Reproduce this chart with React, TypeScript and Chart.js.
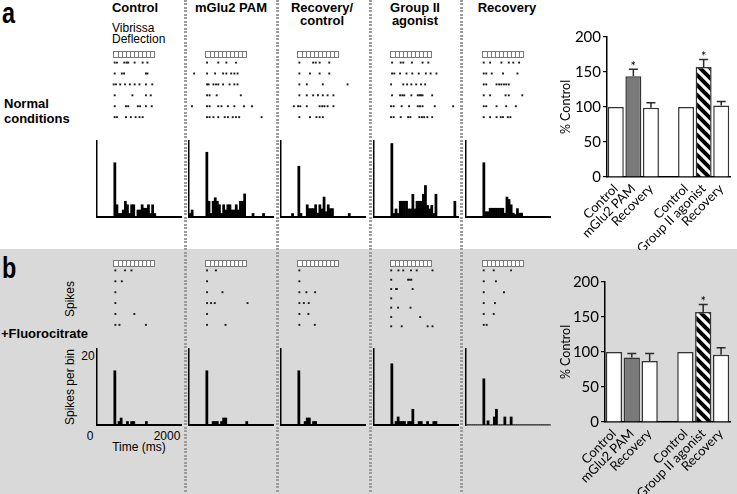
import React, { useEffect, useRef } from "react";
import { Chart, registerables } from "chart.js";
Chart.register(...registerables);

const SANS = "'Liberation Sans', Arial, sans-serif";
const BAR_FONT = "Lato, 'Open Sans', sans-serif";

// ---------- PSTH (50 ms bins, 0-2000 ms) ----------
const BIN_WIDTH_MS = 50;
const BIN_COUNT = 40;
const BIN_LABELS = Array.from({ length: BIN_COUNT }, (_, i) => String(i * BIN_WIDTH_MS));
const PSTH_MAX = 22;

const psthA_control = [0,0,0,0,0,0,0,0,15.5,3.5,1,1,2,4.5,3.5,1,3.5,3.5,0,2,2,3.5,2.5,2.5,3.5,1,3.5,1,0,0,0,0,0,0,0,0,0,0,0,0];
const psthA_mglu2 = [1,2,0,0,0,0,0,0,18.5,4.5,1,4.5,5.5,4.5,3.5,1,3.5,2,3.5,3.5,2,2,3.5,2,4.5,4.5,6.6,0,0,0,1,0,0,0,0,1,0,0,0,0];
const psthA_reccon = [0,0,0,0,0,1,0,0,14.5,1,0,0,3.5,2.4,2.4,2.4,3.5,1.1,3.5,2.3,5.7,1.5,3.5,2.4,2.4,0,0,0,0,0,0,0,1,0,0,0,0,0,0,0];
const psthA_group2 = [0,0,0,0,0,0,0,0,21,1,2.3,1,4.5,4.5,4.5,4.5,2.3,2.3,6.5,2.3,4.5,4.5,4.5,6.5,9,3.3,2.3,3.3,1,6.5,0,0,0,0,0,0,0,0,4.5,0];
const psthA_recovery = [0,0,0,0,0,0,0,0,15.5,1.5,1.5,2.5,2.5,2.5,2.5,2.5,2.5,2.5,1.1,5.7,5,3.5,1.1,0.7,2.4,1.1,1.1,0,0,0,0,0,0,0,0,0,0,0,0,0];

const psthB_control = [0,0,0,0,0,0,0,0,15.5,0,1,2,0,0,1,0,1,1,0,0,0,0,0,1,0,0,0,0,0,0,0,0,0,0,0,0,0,0,0,0];
const psthB_mglu2 = [0,0,0,0,0,0,0,0,15.5,0,0,1,1,1,0,1,2,2,0,0,0,0,0,0,0,0,0,1,0,0,0,0,0,0,0,0,0,0,0,0];
const psthB_reccon = [0,0,0,0,0,0,0,0,15.5,0,0,1,2,2,0,1,1,0,0,0,0,0,0,0,0,0,0,0,0,0,0,0,0,0,0,0,0,0,0,0];
const psthB_group2 = [0,0,0,0,0,0,0,0,17.5,0,1,2.3,1,1,1,0,1,1,4.5,0,0,1,1,0,0,1,0,0,1,1,0,0,0,0,0,0,0,0,0,0];
const psthB_recovery = [0,0,0,0,0,0,0,0,13.2,0,1.2,0,0,2.3,4.5,0,0,0,2.3,0,0,2.3,0,0,0,0,0,0,0,0,0,0,0,0,0,0,0,0,0,0];

// ---------- Rasters: spike times (ms) per trial ----------
const STIM_START_MS = 370;
const STIM_END_MS = 1390;
const STIM_CELLS = 10;

const rasterA_control = [
  [412, 469, 650, 707, 745, 905, 1102, 1221],
  [412, 588, 643, 1183, 1221],
  [388, 445, 548, 667, 786, 905, 1024, 1183, 1340],
  [412, 850, 1183, 1302],
  [412, 690, 745, 983, 1040, 1183, 1326],
  [412, 469, 690, 810, 929, 1024, 1102],
];
const rasterA_mglu2 = [
  [421, 698, 898, 1136],
  [102, 421, 619, 817, 898, 1017, 1095, 1174],
  [421, 460, 579, 643, 698, 817, 976, 1095, 1174],
  [421, 484, 659, 1255],
  [48, 421, 484, 698, 778, 936, 1095, 1333, 1531],
  [421, 484, 579, 698, 857, 936, 1055, 1136, 1214, 1769],
];
const rasterA_reccon = [
  [429, 769, 833, 929, 1167],
  [429, 690, 929, 1167],
  [429, 612, 1007, 1619],
  [429, 612, 769, 888, 1007, 1126, 1270],
  [293, 397, 452, 612, 929, 993, 1048, 1126, 1270],
  [429, 690, 850, 929, 1007],
];
const rasterA_group2 = [
  [421, 635, 698, 912, 1174, 1317],
  [421, 476, 619, 778, 921, 1079, 1255, 1373, 1516],
  [397, 698, 793, 897, 1017, 1136, 1238],
  [421, 619, 674, 722, 897, 1055, 1095, 1136, 1174, 1412],
  [397, 460, 659, 841, 1055, 1111, 1174, 1476, 1929],
  [397, 460, 635, 817, 873, 1095, 1159, 1214, 1293, 1412],
];
const rasterA_recovery = [
  [413, 571, 849, 1031, 1143, 1286],
  [413, 476, 611, 889, 1246],
  [413, 476, 730, 794, 849, 913, 968, 1031],
  [413, 571, 952, 1031, 1365],
  [413, 476, 730, 968, 1206],
  [413, 571, 730, 833, 889, 1007, 1071],
];

const rasterB_control = [[429, 667, 826], [429, 588], [429], [429], [429, 897], [429, 530, 1183]];
const rasterB_mglu2 = [[421, 640], [421], [421, 802], [421, 520, 611, 1420], [421], [421, 877]];
const rasterB_reccon = [[429], [429], [429, 603, 818], [429, 540, 660], [429, 651], [429, 810]];
const rasterB_group2 = [[400, 579, 698, 889, 1030, 1420], [400, 817, 857, 897], [400, 520, 540, 930], [400], [400, 570, 877], [400, 1115], [400, 659, 1300, 1420]];
const rasterB_recovery = [[413, 660, 1087], [413, 714], [413, 913], [413, 690], [413, 660], [413, 484]];

// ---------- Summary bar charts (% control) ----------
const barLabels = ["Control", "mGlu2 PAM", "Recovery", "", "Control", "Group II agonist", "Recovery"];
const barsA = [100, 144, 99, null, 100, 157, 102];
const errA = [null, 10, 7, null, null, 11, 6];
const sigA = [false, true, false, false, false, true, false];
const barsB = [100, 92, 87, null, 100, 157, 96];
const errB = [null, 6, 11, null, null, 11, 10];
const sigB = [false, false, false, false, false, true, false];

const columnTitles = [["Control"], ["mGlu2 PAM"], ["Recovery/", "control"], ["Group II", "agonist"], ["Recovery"]];

// ---------- layout ----------
const COL_LEFT = [97, 189, 281, 374, 466];
const COL_TITLE_X = [135, 231, 322, 415, 507];
const PLOT_W = 84;
const PAD_L = 3;
const PAD_R = 2;
const PAD_B = 3;
const PSTH_A = { top: 140, bottom: 217 };
const PSTH_B = { top: 348, bottom: 425 };
const RASTER_A = { top: 46, bottom: 125, firstRow: 60, lastRow: 120.7 };
const RASTER_B = { top: 255, bottom: 333, firstRow: 267.7, lastRow: 328.4 };
const RASTER_B7 = { top: 255, bottom: 333, firstRow: 267.7, lastRow: 330 };
const DOTTED_X = [184, 276, 369, 460];

const noPlugins = { legend: { display: false }, tooltip: { enabled: false }, title: { display: false } };

function psthConfig(values: number[], xColor = "#000") {
  return {
    type: "bar",
    data: {
      labels: BIN_LABELS,
      datasets: [{ data: values, backgroundColor: "#000", borderWidth: 0, barPercentage: 1, categoryPercentage: 1 }],
    },
    options: {
      responsive: false,
      animation: false,
      events: [],
      layout: { padding: { left: PAD_L, right: PAD_R, top: 0, bottom: PAD_B } },
      plugins: noPlugins,
      scales: {
        x: {
          display: true,
          grid: { display: false },
          ticks: { display: false },
          border: { display: true, color: xColor, width: 2 },
          afterFit: (s: any) => { s.height = 0; },
        },
        y: {
          display: true,
          min: 0,
          max: PSTH_MAX,
          grid: { display: false },
          ticks: { display: false },
          border: { display: true, color: "#000", width: 1.5 },
          afterFit: (s: any) => { s.width = 0; },
        },
      },
    },
  };
}

const stimBoxPlugin = {
  id: "stimBox",
  afterDraw(chart: any) {
    const { ctx, chartArea, scales } = chart;
    const x0 = Math.round(scales.x.getPixelForValue(STIM_START_MS)) + 0.5;
    const x1 = Math.round(scales.x.getPixelForValue(STIM_END_MS)) + 0.5;
    const y0 = Math.round(chartArea.top) + 1.5;
    const h = 6;
    ctx.save();
    ctx.fillStyle = "#fff";
    ctx.fillRect(x0, y0, x1 - x0, h);
    ctx.strokeStyle = "#7a7a7a";
    ctx.lineWidth = 1;
    ctx.strokeRect(x0, y0, x1 - x0, h);
    ctx.beginPath();
    for (let k = 1; k < STIM_CELLS; k++) {
      const x = Math.round(x0 + ((x1 - x0) * k) / STIM_CELLS) + 0.5;
      ctx.moveTo(x, y0);
      ctx.lineTo(x, y0 + h);
    }
    ctx.stroke();
    ctx.restore();
  },
};

function rasterConfig(trials: number[][], lay: any) {
  const n = trials.length;
  const s = (lay.lastRow - lay.firstRow) / (n - 1);
  const min = 1 - (lay.firstRow - lay.top) / s;
  const max = n + (lay.bottom - lay.lastRow) / s;
  const points = trials.flatMap((ts, i) => ts.map((t) => ({ x: t, y: i + 1 })));
  return {
    type: "scatter",
    data: {
      datasets: [{ data: points, pointStyle: "rect", pointRadius: 1.35, backgroundColor: "#1a1a1a", borderWidth: 0 }],
    },
    options: {
      responsive: false,
      animation: false,
      events: [],
      layout: { padding: { left: PAD_L, right: PAD_R, top: 0, bottom: 0 } },
      plugins: noPlugins,
      scales: {
        x: { type: "linear", display: false, min: 0, max: 2000 },
        y: { type: "linear", display: false, reverse: true, min, max },
      },
    },
    plugins: [stimBoxPlugin],
  };
}

function makeHatch(ctx: CanvasRenderingContext2D) {
  const p = 10;
  const tile = document.createElement("canvas");
  tile.width = p;
  tile.height = p;
  const g = tile.getContext("2d")!;
  g.fillStyle = "#fff";
  g.fillRect(0, 0, p, p);
  g.strokeStyle = "#000";
  g.lineWidth = 4;
  g.beginPath();
  for (const off of [-p, 0, p]) {
    g.moveTo(-p, -p + off);
    g.lineTo(2 * p, 2 * p + off);
  }
  g.stroke();
  return ctx.createPattern(tile, "repeat");
}

function barConfig(canvas: HTMLCanvasElement, values: (number | null)[], errs: (number | null)[], sig: boolean[], yWidth: number, padTop: number, xHeight: number) {
  const hatch = makeHatch(canvas.getContext("2d")!);
  const errPlugin = {
    id: "errBars",
    afterDatasetsDraw(chart: any) {
      const { ctx } = chart;
      const y = chart.scales.y;
      const meta = chart.getDatasetMeta(0);
      errs.forEach((e, i) => {
        const v = values[i];
        if (e == null || v == null) return;
        const bar = meta.data[i];
        const top = y.getPixelForValue(v + e);
        ctx.save();
        ctx.strokeStyle = "#2a2a2a";
        ctx.lineWidth = 1.5;
        ctx.beginPath();
        ctx.moveTo(bar.x, bar.y);
        ctx.lineTo(bar.x, top);
        ctx.moveTo(bar.x - 4.5, top);
        ctx.lineTo(bar.x + 4.5, top);
        ctx.stroke();
        if (sig[i]) {
          ctx.fillStyle = "#000";
          ctx.font = `13px ${BAR_FONT}`;
          ctx.textAlign = "center";
          ctx.textBaseline = "alphabetic";
          ctx.fillText("*", bar.x, top + 2);
        }
        ctx.restore();
      });
    },
  };
  return {
    type: "bar",
    data: {
      labels: barLabels,
      datasets: [
        {
          data: values,
          backgroundColor: ["#fff", "#7a7a7a", "#fff", "rgba(0,0,0,0)", "#fff", hatch, "#fff"],
          borderColor: "#333",
          borderWidth: 1.5,
          borderSkipped: "bottom",
          barPercentage: 0.91,
          categoryPercentage: 1,
        },
      ],
    },
    options: {
      responsive: false,
      animation: false,
      events: [],
      layout: { padding: { left: 0, right: 7, top: padTop, bottom: 0 } },
      plugins: noPlugins,
      scales: {
        x: {
          grid: { display: false },
          border: { display: true, color: "#000", width: 1.5 },
          ticks: {
            autoSkip: false,
            minRotation: 45,
            maxRotation: 45,
            padding: -4,
            color: "#000",
            font: { family: BAR_FONT, size: 13 },
          },
          afterFit: (s: any) => { s.height = xHeight; },
        },
        y: {
          min: 0,
          max: 200,
          grid: { display: true, drawOnChartArea: false, drawTicks: true, tickLength: 4, color: "#000", lineWidth: 1.2 },
          border: { display: true, color: "#000", width: 1.5 },
          ticks: { stepSize: 50, padding: 2, color: "#000", font: { family: BAR_FONT, size: 15 } },
          title: { display: true, text: "% Control", color: "#000", font: { family: BAR_FONT, size: 12.5 }, padding: { top: 2, bottom: 0 } },
          afterFit: (s: any) => { s.width = yWidth; },
        },
      },
    },
    plugins: [errPlugin],
  };
}

function ChartCanvas({ left, top, width, height, make }: { left: number; top: number; width: number; height: number; make: (c: HTMLCanvasElement) => any }) {
  const ref = useRef<HTMLCanvasElement>(null);
  useEffect(() => {
    const c = new Chart(ref.current!, make(ref.current!));
    return () => c.destroy();
  }, []);
  return <canvas ref={ref} width={width} height={height} style={{ position: "absolute", left, top, width, height }} />;
}

function Txt({ x, baseline, size = 12, bold = false, align = "left", children, scaleX }: any) {
  const top = baseline - 0.8465 * size;
  const tx = align === "center" ? "translateX(-50%)" : align === "right" ? "translateX(-100%)" : "";
  return (
    <div
      style={{
        position: "absolute",
        left: x,
        top,
        fontFamily: SANS,
        fontSize: size,
        lineHeight: `${size}px`,
        fontWeight: bold ? 700 : 400,
        whiteSpace: "nowrap",
        color: "#000",
        transform: `${tx}${scaleX ? ` scaleX(${scaleX})` : ""}`,
        transformOrigin: "left top",
      }}
    >
      {children}
    </div>
  );
}

function VTxt({ cx, cy, size = 12, children }: any) {
  return (
    <div
      style={{
        position: "absolute",
        left: cx,
        top: cy,
        fontFamily: SANS,
        fontSize: size,
        lineHeight: `${size}px`,
        whiteSpace: "nowrap",
        color: "#000",
        transform: "translate(-50%, -50%) rotate(-90deg)",
      }}
    >
      {children}
    </div>
  );
}

export default function App() {
  const psthA = [psthA_control, psthA_mglu2, psthA_reccon, psthA_group2, psthA_recovery];
  const psthB = [psthB_control, psthB_mglu2, psthB_reccon, psthB_group2, psthB_recovery];
  const rasA = [rasterA_control, rasterA_mglu2, rasterA_reccon, rasterA_group2, rasterA_recovery];
  const rasB = [rasterB_control, rasterB_mglu2, rasterB_reccon, rasterB_group2, rasterB_recovery];
  const cw = PAD_L + PLOT_W + PAD_R;

  return (
    <div style={{ position: "absolute", left: 0, top: 0, width: 737, height: 494, overflow: "hidden", background: "#fff" }}>
      <div style={{ position: "absolute", left: 0, top: 249, width: 737, height: 245, background: "#d9d9d9" }} />
      {DOTTED_X.map((x) => (
        <div
          key={x}
          style={{
            position: "absolute",
            left: x,
            top: 0,
            width: 3,
            height: 492,
            background: "repeating-linear-gradient(to bottom, #9c9c9c 0px, #9c9c9c 2px, transparent 2px, transparent 3.5px)",
          }}
        />
      ))}

      {/* panel labels */}
      <Txt x={2} baseline={23} size={30} bold scaleX={0.78}>a</Txt>
      <Txt x={1.5} baseline={278} size={30} bold scaleX={0.78}>b</Txt>
      <Txt x={4} baseline={108.3} size={13} bold>Normal</Txt>
      <Txt x={4} baseline={123.3} size={13} bold>conditions</Txt>
      <Txt x={1} baseline={337.7} size={13} bold>+Fluorocitrate</Txt>

      {columnTitles.map((lines, i) =>
        lines.map((t, j) => (
          <Txt key={`${i}-${j}`} x={COL_TITLE_X[i]} baseline={11.7 + j * 13.5} size={13} bold align="center">
            {t}
          </Txt>
        ))
      )}
      <Txt x={112} baseline={32.3} size={12}>Vibrissa</Txt>
      <Txt x={112} baseline={42.7} size={12}>Deflection</Txt>

      <VTxt cx={70} cy={299}>Spikes</VTxt>
      <VTxt cx={70} cy={386.5}>Spikes per bin</VTxt>
      <Txt x={88} baseline={360} size={12} align="center">20</Txt>
      <Txt x={90} baseline={440} size={12} align="center">0</Txt>
      <Txt x={167} baseline={440} size={12} align="center">2000</Txt>
      <Txt x={139} baseline={451} size={12} align="center">Time (ms)</Txt>

      {COL_LEFT.map((x, i) => (
        <React.Fragment key={`col${i}`}>
          <ChartCanvas left={x - PAD_L} top={RASTER_A.top} width={cw} height={RASTER_A.bottom - RASTER_A.top} make={() => rasterConfig(rasA[i], RASTER_A)} />
          <ChartCanvas left={x - PAD_L} top={PSTH_A.top} width={cw} height={PSTH_A.bottom - PSTH_A.top + PAD_B} make={() => psthConfig(psthA[i])} />
          <ChartCanvas
            left={x - PAD_L}
            top={RASTER_B.top}
            width={cw}
            height={RASTER_B.bottom - RASTER_B.top}
            make={() => rasterConfig(rasB[i], rasB[i].length === 7 ? RASTER_B7 : RASTER_B)}
          />
          <ChartCanvas left={x - PAD_L} top={PSTH_B.top} width={cw} height={PSTH_B.bottom - PSTH_B.top + PAD_B} make={() => psthConfig(psthB[i], i === 4 ? "#808080" : "#000")} />
        </React.Fragment>
      ))}

      <ChartCanvas left={556} top={24} width={181} height={226} make={(c) => barConfig(c, barsA, errA, sigA, 51, 13, 73)} />
      <ChartCanvas left={556} top={268} width={181} height={226} make={(c) => barConfig(c, barsB, errB, sigB, 49, 14, 72)} />
    </div>
  );
}
